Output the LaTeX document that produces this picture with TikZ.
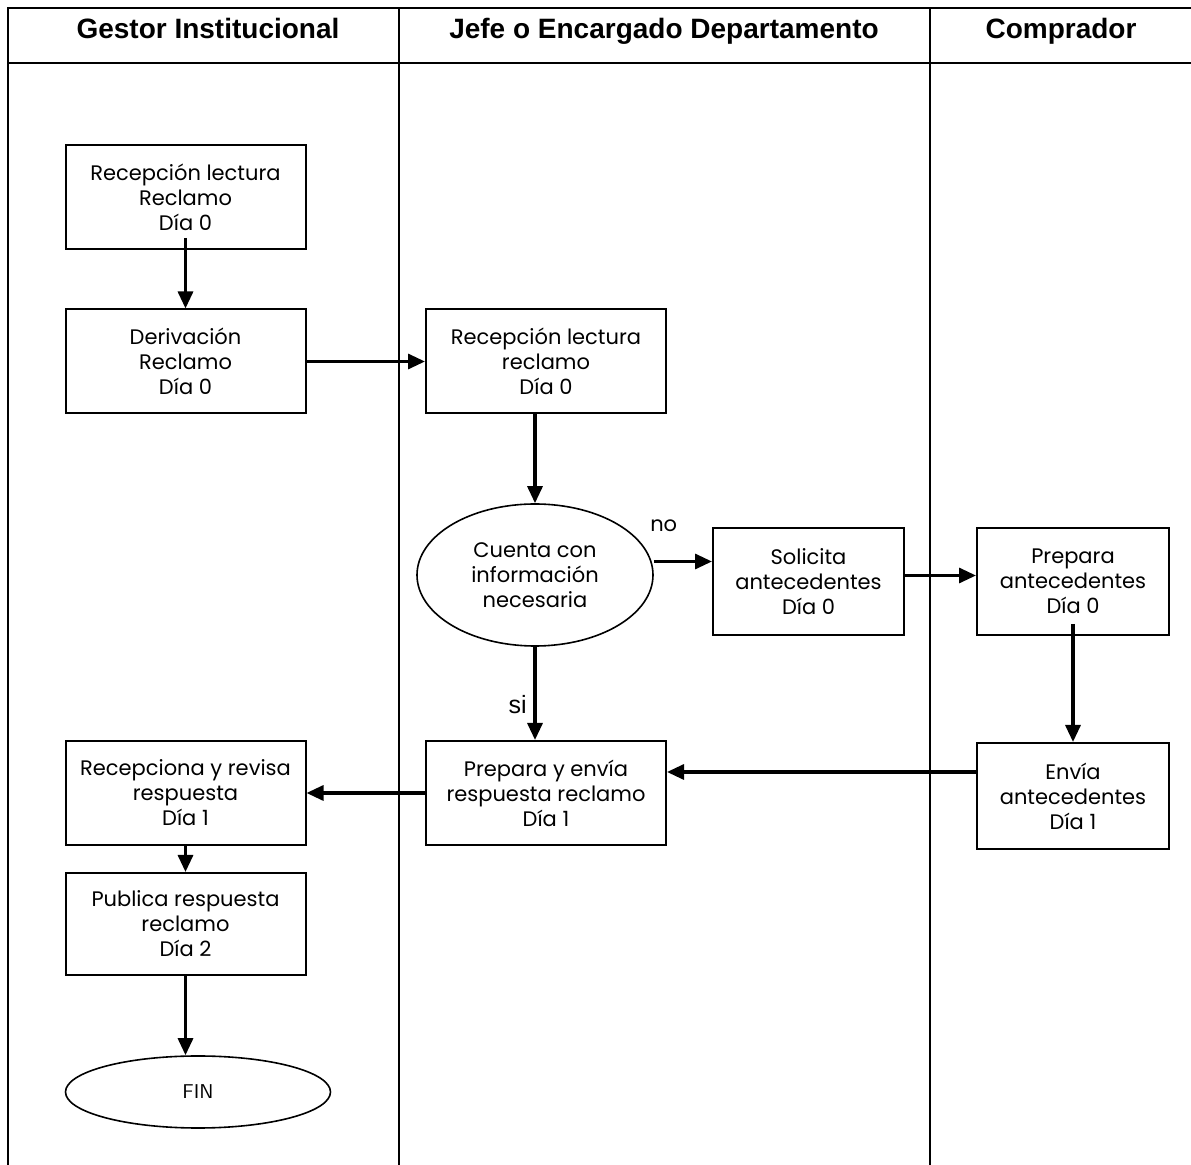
\documentclass[tikz,border=0pt]{standalone}
\usepackage{fontspec}
\setmainfont{Poppins}
\newfontfamily\cabecera{Liberation Sans}
\usetikzlibrary{arrows.meta,shapes.geometric}

\tikzset{
  tarea/.style={draw, line width=1pt, minimum width=120pt, minimum height=52pt, align=center,
    font=\fontsize{10.5}{12.5}\selectfont},
  decision/.style={draw, ellipse, line width=0.8pt, minimum width=118pt, minimum height=71pt, align=center,
    font=\fontsize{10.5}{12.5}\selectfont},
  flecha/.style={-{Triangle[length=8.5pt,width=7.5pt]}, line width=1.6pt},
  carril/.style={line width=1pt},
  titulo/.style={anchor=base, font=\cabecera\bfseries\fontsize{14}{16}\selectfont},
}

\begin{document}
\begin{tikzpicture}[x=0.5pt,y=-0.5pt]
        \useasboundingbox (0,0) rectangle (1191,1165);
        %Lanes
        \draw[carril] (1191,8) -- (8,8) -- (8,1165);
        \draw[carril] (8,63) -- (1191,63);
        \draw[carril] (399,8) -- (399,1165);
        \draw[carril] (930,8) -- (930,1165);
        \node[titulo] (gestor) at (208,39) {Gestor Institucional};
        \node[titulo] (jefe) at (664,39) {Jefe o Encargado Departamento};
        \node[titulo] (comprador) at (1061,39) {Comprador};
        %Steps
        \node[tarea] (recep) at (185.5,197) {Recepción lectura\\Reclamo\\Día 0};
        \node[tarea] (deriv) at (185.5,361.5) {Derivación\\Reclamo\\Día 0};
        \node[tarea] (lect) at (546,361.5) {Recepción lectura\\reclamo\\Día 0};
        \node[decision] (cuenta) at (535,575) {Cuenta con\\información\\necesaria};
        \node[tarea, minimum width=95.5pt, minimum height=53.5pt] (solic) at (808.5,581.5) {Solicita\\antecedentes\\Día 0};
        \node[tarea, minimum width=96pt, minimum height=53.5pt] (prepant) at (1073,581.5) {Prepara\\antecedentes\\Día 0};
        \node[tarea, minimum width=96pt, minimum height=53pt] (envia) at (1073,796) {Envía\\antecedentes\\Día 1};
        \node[tarea] (prepresp) at (546,793) {Prepara y envía\\respuesta reclamo\\Día 1};
        \node[tarea] (revisa) at (185.5,793) {Recepciona y revisa\\respuesta\\Día 1};
        \node[tarea, minimum height=51pt] (publica) at (185.5,924) {Publica respuesta\\reclamo\\Día 2};
        \node[draw, ellipse, line width=0.8pt, minimum width=132.5pt, minimum height=36pt,
          font=\sffamily\fontsize{10}{12}\selectfont] (fin) at (198,1092) {FIN};
        %Connectors
        \coordinate (no) at ([yshift=10pt]solic.west);
        \draw[flecha] ([yshift=6pt]recep.south) -- (deriv.north);
        \draw[flecha] (deriv.east) -- (lect.west);
        \draw[flecha] (cuenta.north |- lect.south) -- (cuenta.north);
        \draw[flecha] (no -| cuenta.east) -- (no)
          node[pos=0.17, above=11pt, font=\fontsize{10.5}{12}\selectfont] {no};
        \draw[flecha] ([yshift=3pt]solic.east) -- ([yshift=3pt]prepant.west);
        \draw[flecha] ([yshift=6pt]prepant.south) -- (envia.north);
        \draw[flecha] ([yshift=12pt]envia.west) -- ([yshift=12pt]envia.west -| prepresp.east);
        \draw[flecha] (cuenta.south) -- (cuenta.south |- prepresp.north)
          node[pos=0.62, left=0pt, font=\cabecera\fontsize{12.5}{14}\selectfont] {si};
        \draw[flecha] (prepresp.west) -- (revisa.east);
        \draw[flecha] (revisa.south) -- (publica.north);
        \draw[flecha] (publica.south) -- (publica.south |- fin.north);
\end{tikzpicture}
\end{document}
